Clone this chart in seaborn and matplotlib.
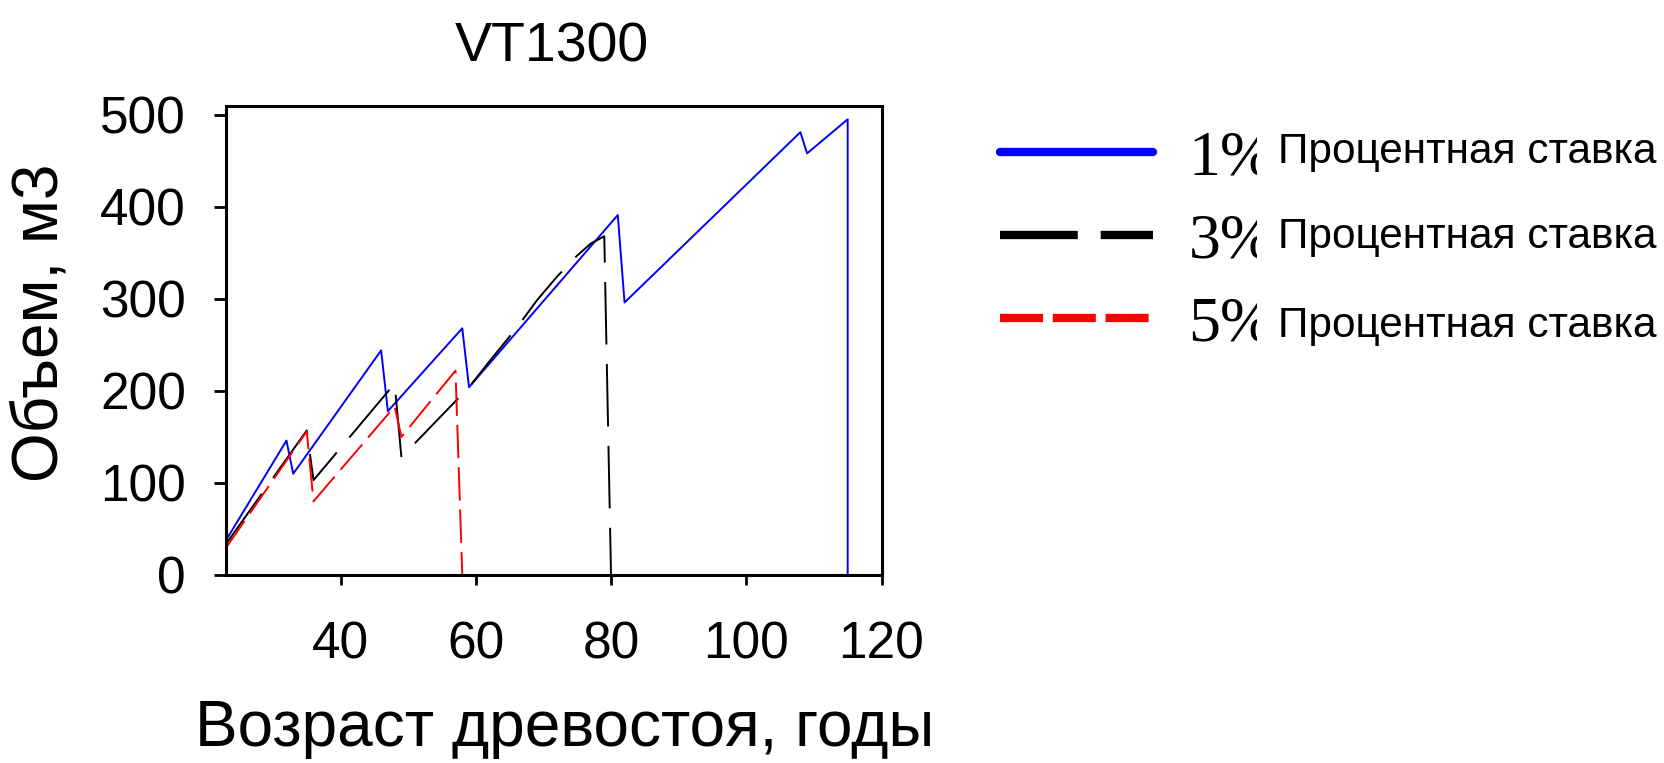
import matplotlib
matplotlib.use("Agg")
import matplotlib.pyplot as plt
from matplotlib.lines import Line2D
from matplotlib.transforms import Bbox, TransformedBbox
import seaborn as sns
import pandas as pd

# ---- data ----
title = "VT1300"
x_label = "Возраст древостоя, годы"
y_label = "Объем, м3"
rate_labels = ["1%", "3%", "5%"]
rate_suffix = "Процентная ставка"

age_1 = [23, 32, 33, 46, 47, 58, 59, 81, 82, 108, 109, 115, 115]
vol_1 = [37, 146, 110, 244, 178, 268, 204, 391, 296, 481, 458, 495, 0]

age_3 = [23, 35, 36, 48, 49, 59, 62, 66, 69, 72, 75, 77, 79, 80]
vol_3 = [33, 157, 103, 208, 128, 204, 232, 268, 298, 324, 347, 360, 368, 0]

age_5 = [23, 35, 36, 48, 49, 57, 58]
vol_5 = [29, 156, 80, 183, 150, 222, 0]

x_ticks = [40, 60, 80, 100, 120]
y_ticks = [0, 100, 200, 300, 400, 500]

# ---- style ----
sns.set_style("ticks")
plt.rcParams["font.family"] = ["Liberation Sans", "DejaVu Sans"]
plt.rcParams["lines.scale_dashes"] = False
plt.rcParams["text.color"] = "black"
plt.rcParams["axes.labelcolor"] = "black"
plt.rcParams["xtick.color"] = "black"
plt.rcParams["ytick.color"] = "black"

W, H = 1664, 763
fig = plt.figure(figsize=(W / 100, H / 100), dpi=100)
L, R, T, B = 225.6, 881.5, 105.5, 575.0
ax = fig.add_axes([L / W, 1 - B / H, (R - L) / W, (B - T) / H])

colors = ["#0000FF", "#000000", "#FF0000"]
styles = ["-", (0, (45, 14)), (0, (24, 6.5))]
series = [(age_1, vol_1), (age_3, vol_3), (age_5, vol_5)]
for (xs, ys), c, ls in zip(series, colors, styles):
    df = pd.DataFrame({"age": xs, "vol": ys})
    sns.lineplot(data=df, x="age", y="vol", estimator=None, sort=False,
                 color=c, linewidth=1.4, linestyle=ls, ax=ax, legend=False)

ax.set_xlim(23, 120)
ax.set_ylim(0, 510)
ax.set_xticks(x_ticks)
ax.set_yticks(y_ticks)
for s in ax.spines.values():
    s.set_visible(True)
    s.set_color("black")
    s.set_linewidth(2.2)
ax.tick_params(axis="both", direction="out", colors="black", labelcolor="black",
               width=2.0, labelsize=37)
ax.tick_params(axis="y", length=8.5, pad=20)
ax.tick_params(axis="x", length=7, pad=26)

ax.set_xlabel(x_label, fontsize=46, color="black")
ax.set_ylabel(y_label, fontsize=46, color="black")
ax.xaxis.set_label_coords((565 - L) / (R - L), (B - 699) / (B - T))
ax.yaxis.set_label_coords((70 - L) / (R - L), (B - 323) / (B - T))
ax.set_title(title, fontsize=40, color="black", x=(552 - L) / (R - L),
             y=(B - 62) / (B - T), pad=0)

# ---- legend ----
leg_handles = [
    Line2D([], [], color=colors[0], linewidth=6, solid_capstyle="round"),
    Line2D([], [], color=colors[1], linewidth=6, linestyle=(0, (56, 16.5))),
    Line2D([], [], color=colors[2], linewidth=6, linestyle=(0, (31, 7))),
]
leg = fig.legend(leg_handles, rate_labels, loc="upper left",
                 bbox_to_anchor=(1000 / W, 1 - 130 / H),
                 frameon=False, prop={"family": "Liberation Serif", "size": 46},
                 handlelength=2.4, handletextpad=0.55, labelspacing=0.38,
                 borderaxespad=0, borderpad=0)
clip = TransformedBbox(Bbox([[0, 0], [1257 / W, 1]]), fig.transFigure)
for t in leg.get_texts():
    t.set_color("black")
    t.set_clip_box(clip)
    t.set_clip_on(True)

for yb in [163, 248, 337]:
    fig.text(1278 / W, 1 - yb / H, rate_suffix, fontsize=30.5, color="black",
             ha="left", va="baseline")

fig.savefig("out.png", dpi=100)
